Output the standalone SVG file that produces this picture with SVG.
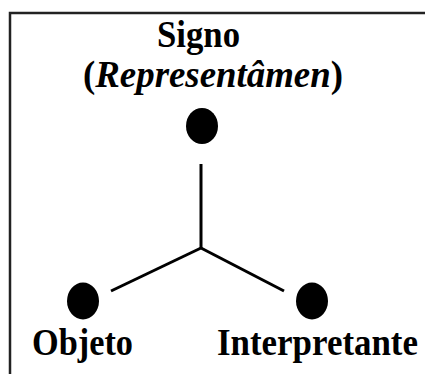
<svg xmlns="http://www.w3.org/2000/svg" width="425" height="374" viewBox="0 0 425 374">
<style>
.lbl{font-family:"Liberation Serif","Times New Roman",serif;font-weight:bold;font-size:37px;fill:#000}
.dot{fill:#000}
.edge{stroke:#000;stroke-width:3;fill:none}
</style>
<rect width="425" height="374" fill="#fff"/>
<path d="M10 374 V13 H425" fill="none" stroke="#222" stroke-width="2.5"/>
<g id="connectors">
<line class="edge" x1="201" y1="164" x2="201" y2="248"/>
<line class="edge" x1="201" y1="248" x2="111" y2="291"/>
<line class="edge" x1="201" y1="248" x2="284" y2="291"/>
</g>
<g id="signo">
<text class="lbl" x="157" y="47" textLength="83" lengthAdjust="spacingAndGlyphs">Signo</text>
<text class="lbl" x="83" y="87" textLength="260" lengthAdjust="spacingAndGlyphs">(<tspan font-style="italic">Representâmen</tspan>)</text>
<ellipse class="dot" cx="202" cy="126" rx="16" ry="18"/>
</g>
<g id="objeto">
<ellipse class="dot" cx="83" cy="301" rx="16" ry="18.5"/>
<text class="lbl" x="32" y="355" textLength="101" lengthAdjust="spacingAndGlyphs">Objeto</text>
</g>
<g id="interpretante">
<ellipse class="dot" cx="312" cy="301" rx="16" ry="18.5"/>
<text class="lbl" x="217" y="355" textLength="201" lengthAdjust="spacingAndGlyphs">Interpretante</text>
</g>
</svg>
